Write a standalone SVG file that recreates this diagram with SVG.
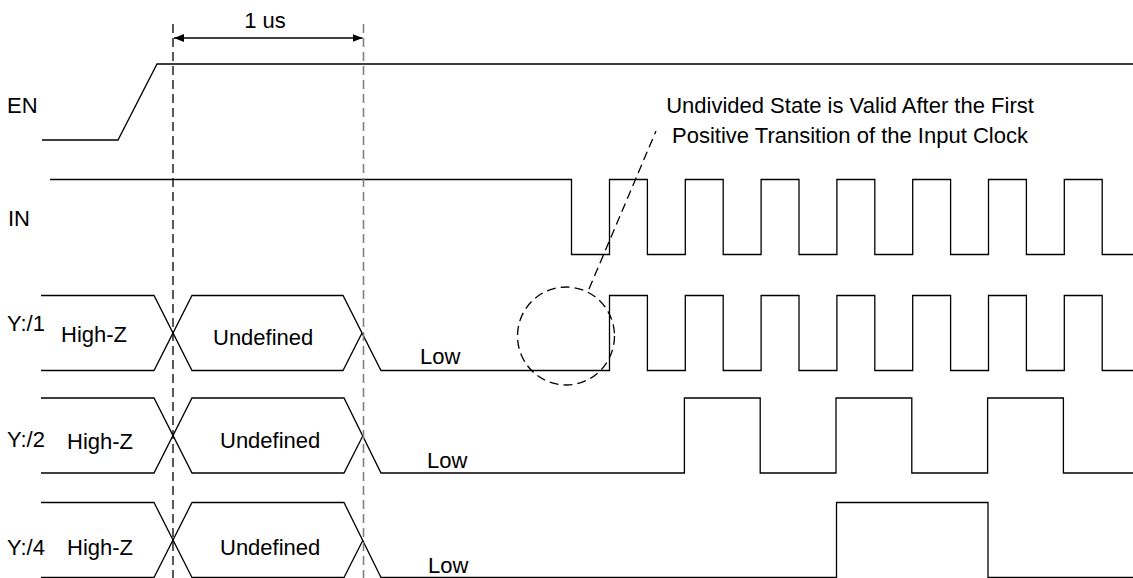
<svg xmlns="http://www.w3.org/2000/svg" width="1133" height="578" viewBox="0 0 1133 578">
<style>
  .w { fill: none; stroke: #000; stroke-width: 1.3; stroke-linejoin: miter; }
  .t { font-family: "Liberation Sans", Arial, sans-serif; font-size: 22px; fill: #000; }
  .dash { fill: none; stroke: #000; stroke-width: 1.3; stroke-dasharray: 9 5; }
  .dashg { fill: none; stroke: #808080; stroke-width: 1.6; stroke-dasharray: 9 5; }
</style>
<defs>
  <marker id="ah" viewBox="0 0 10 8" refX="10" refY="4" markerWidth="10" markerHeight="8" markerUnits="userSpaceOnUse" orient="auto-start-reverse">
    <path d="M0,0 L10,4 L0,8 Z" fill="#000"/>
  </marker>
</defs>
<rect width="1133" height="578" fill="#fff"/>

<g id="EN">
  <text class="t" x="7" y="113">EN</text>
  <path class="w" d="M42,140 H118 L157,64 H1133"/>
</g>

<g id="IN">
  <text class="t" x="8" y="226">IN</text>
  <path class="w" d="M50,179.5 H571.5 V254.5 H609.5 V179.5 H647.4 V254.5 H685.3 V179.5 H723.2 V254.5 H761.1 V179.5 H799 V254.5 H836.9 V179.5 H874.8 V254.5 H912.7 V179.5 H950.6 V254.5 H988.5 V179.5 H1026.4 V254.5 H1064.3 V179.5 H1102.2 V254.5 H1133"/>
</g>

<g id="Y1">
  <text class="t" x="7" y="331">Y:/1</text>
  <text class="t" x="61" y="342">High-Z</text>
  <text class="t" x="213" y="345">Undefined</text>
  <text class="t" x="420" y="364">Low</text>
  <path class="w" d="M41,295.5 H154 L192,370.5 H343 L362,333"/>
  <path class="w" d="M41,370.5 H154 L192,295.5 H343 L381,370.5 H609.5 V295.5 H647.4 V370.5 H685.3 V295.5 H723.2 V370.5 H761.1 V295.5 H799 V370.5 H836.9 V295.5 H874.8 V370.5 H912.7 V295.5 H950.6 V370.5 H988.5 V295.5 H1026.4 V370.5 H1064.3 V295.5 H1102.2 V370.5 H1133"/>
</g>

<g id="Y2">
  <text class="t" x="7" y="447">Y:/2</text>
  <text class="t" x="67" y="449">High-Z</text>
  <text class="t" x="220" y="448">Undefined</text>
  <text class="t" x="427" y="468">Low</text>
  <path class="w" d="M41,398 H154 L192,473 H344 L363,435.5"/>
  <path class="w" d="M41,473 H154 L192,398 H344 L381,473 H684.4 V398 H760.2 V473 H836 V398 H911.8 V473 H987.6 V398 H1063.4 V473 H1133"/>
</g>

<g id="Y4">
  <text class="t" x="7" y="555">Y:/4</text>
  <text class="t" x="67" y="555">High-Z</text>
  <text class="t" x="220" y="555">Undefined</text>
  <text class="t" x="428" y="573">Low</text>
  <path class="w" d="M41,502.5 H154 L192,577.5 H344 L363,540"/>
  <path class="w" d="M41,577.5 H154 L192,502.5 H344 L381,577.5 H836.5 V502.5 H988 V577.5 H1133"/>
</g>

<g id="annotation">
  <text class="t" x="850" y="113" text-anchor="middle">Undivided State is Valid After the First</text>
  <text class="t" x="850" y="143" text-anchor="middle">Positive Transition of the Input Clock</text>
  <ellipse class="dash" cx="566" cy="336" rx="48.5" ry="49"/>
</g>

<g id="connectors">
  <line class="dash" x1="173" y1="24" x2="173" y2="578"/>
  <line class="dashg" x1="363.5" y1="24" x2="363.5" y2="578"/>
  <line x1="174" y1="38" x2="362.5" y2="38" stroke="#000" stroke-width="1.3" marker-start="url(#ah)" marker-end="url(#ah)"/>
  <text class="t" x="265" y="28" text-anchor="middle">1 us</text>
  <line class="dash" x1="589" y1="289" x2="656" y2="131"/>
</g>
</svg>
